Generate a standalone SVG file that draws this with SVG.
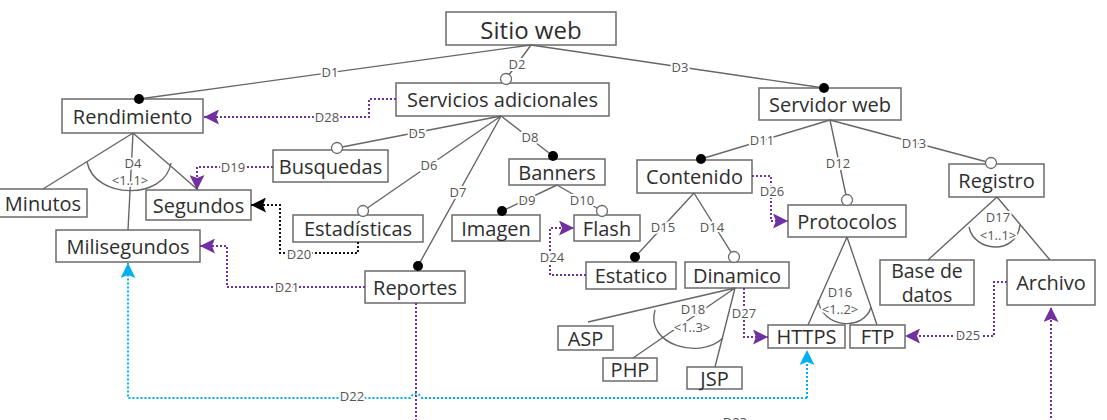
<svg xmlns="http://www.w3.org/2000/svg" width="1107" height="420" viewBox="0 0 1107 420">
<style>
.box{fill:#fff;stroke:#6b6b6b;stroke-width:1.5}
.nt{font-family:"Open Sans","Noto Sans",sans-serif;font-size:20px;fill:#2e2e2e;text-anchor:middle;dominant-baseline:central}
.ln{stroke:#666;stroke-width:1.4;fill:none}
.lb{font-family:"Open Sans","Noto Sans",sans-serif;font-size:13px;fill:#555;text-anchor:middle;dominant-baseline:central;stroke:#fff;stroke-width:4;stroke-linejoin:round;paint-order:stroke}
.pd{stroke:#7030A0;stroke-width:2;stroke-dasharray:2 2;fill:none}
.cd{stroke:#00B0F0;stroke-width:2;stroke-dasharray:2 2;fill:none}
.kd{stroke:#111;stroke-width:2;stroke-dasharray:2 2;fill:none}
.dot{fill:#000}
.oc{fill:#fff;stroke:#6b6b6b;stroke-width:1.3}
</style>
<defs>
<marker id="ap" viewBox="0 0 10 10" refX="10" refY="5" markerWidth="15" markerHeight="15" markerUnits="userSpaceOnUse" orient="auto"><path d="M0,0 L10,5 L0,10 L2,5 z" fill="#7030A0"/></marker>
<marker id="ac" viewBox="0 0 10 10" refX="10" refY="5" markerWidth="15" markerHeight="15" markerUnits="userSpaceOnUse" orient="auto"><path d="M0,0 L10,5 L0,10 L2,5 z" fill="#00B0F0"/></marker>
<marker id="ak" viewBox="0 0 10 10" refX="10" refY="5" markerWidth="15" markerHeight="15" markerUnits="userSpaceOnUse" orient="auto"><path d="M0,0 L10,5 L0,10 L2,5 z" fill="#000"/></marker>
</defs>
<rect width="1107" height="420" fill="#fff"/>

<g id="n-sitio"><rect class="box" x="446" y="12" width="170" height="33"/><text class="nt" x="531" y="29" style="font-size:24px">Sitio web</text></g>
<g id="n-rendimiento"><rect class="box" x="62" y="99" width="141" height="34"/><text class="nt" x="132.5" y="116">Rendimiento</text></g>
<g id="n-servicios"><rect class="box" x="396" y="83" width="213" height="33"/><text class="nt" x="502.5" y="99.5">Servicios adicionales</text></g>
<g id="n-servidor"><rect class="box" x="759" y="88" width="142" height="32"/><text class="nt" x="830" y="104">Servidor web</text></g>
<g id="n-minutos"><rect class="box" x="-1" y="189" width="88" height="28"/><text class="nt" x="43" y="203">Minutos</text></g>
<g id="n-segundos"><rect class="box" x="146" y="190" width="105" height="30"/><text class="nt" x="198.5" y="205">Segundos</text></g>
<g id="n-milisegundos"><rect class="box" x="56" y="230" width="144" height="32"/><text class="nt" x="128" y="246">Milisegundos</text></g>
<g id="n-busquedas"><rect class="box" x="273" y="150" width="115" height="32"/><text class="nt" x="330.5" y="166">Busquedas</text></g>
<g id="n-estadisticas"><rect class="box" x="293" y="215" width="130" height="27"/><text class="nt" x="358" y="228.5">Estadísticas</text></g>
<g id="n-reportes"><rect class="box" x="365" y="271" width="100" height="32"/><text class="nt" x="415" y="287">Reportes</text></g>
<g id="n-banners"><rect class="box" x="509" y="159" width="96" height="26"/><text class="nt" x="557" y="172">Banners</text></g>
<g id="n-imagen"><rect class="box" x="452" y="215" width="88" height="26"/><text class="nt" x="496" y="228">Imagen</text></g>
<g id="n-flash"><rect class="box" x="574" y="215" width="66" height="26"/><text class="nt" x="607" y="228">Flash</text></g>
<g id="n-contenido"><rect class="box" x="637" y="160" width="115" height="33"/><text class="nt" x="694.5" y="176.5">Contenido</text></g>
<g id="n-estatico"><rect class="box" x="586" y="262" width="90" height="27"/><text class="nt" x="631" y="275.5">Estatico</text></g>
<g id="n-dinamico"><rect class="box" x="685" y="262" width="104" height="26"/><text class="nt" x="737" y="275">Dinamico</text></g>
<g id="n-protocolos"><rect class="box" x="788" y="205" width="118" height="32"/><text class="nt" x="847" y="221">Protocolos</text></g>
<g id="n-registro"><rect class="box" x="949" y="164" width="95" height="33"/><text class="nt" x="996.5" y="180.5">Registro</text></g>
<g id="n-asp"><rect class="box" x="558" y="326" width="55" height="24"/><text class="nt" x="585.5" y="338">ASP</text></g>
<g id="n-php"><rect class="box" x="603" y="358" width="54" height="23"/><text class="nt" x="630" y="369.5">PHP</text></g>
<g id="n-jsp"><rect class="box" x="687" y="367" width="55" height="22"/><text class="nt" x="714.5" y="378">JSP</text></g>
<g id="n-https"><rect class="box" x="768" y="325" width="77" height="23"/><text class="nt" x="806.5" y="336.5">HTTPS</text></g>
<g id="n-ftp"><rect class="box" x="850" y="325" width="55" height="23"/><text class="nt" x="877.5" y="336.5">FTP</text></g>
<g id="n-basedatos"><rect class="box" x="880" y="260" width="94" height="45"/><text class="nt" x="927" y="270.5" style="font-size:19.5px">Base de</text><text class="nt" x="927" y="294.5" style="font-size:19.5px">datos</text></g>
<g id="n-archivo"><rect class="box" x="1007" y="260" width="88" height="45"/><text class="nt" x="1051" y="282">Archivo</text></g>

<g id="connectors">
<path class="ln" d="M531,45 L139,99 M531,45 L506,79 M531,45 L824,88"/>
<path class="ln" d="M501,116 L337,148 M501,116 L363,211 M501,116 L418,266 M501,116 L553,156"/>
<path class="ln" d="M133,133 L43,189 M133,133 L198,190 M133,133 L128,230"/>
<path class="ln" d="M87,162 C95,200 165,200 171,163"/>
<path class="ln" d="M557,185 L502,211 M557,185 L602,211"/>
<path class="ln" d="M830,120 L701,159 M830,120 L847,200 M830,120 L991,163"/>
<path class="ln" d="M694,193 L734,257 M694,193 L635,257"/>
<path class="ln" d="M847,237 L808,325 M847,237 L877,325"/>
<path class="ln" d="M818,300 C822,328 864,332 871,307"/>
<path class="ln" d="M997,197 L928,260 M997,197 L1050,260"/>
<path class="ln" d="M969,227 C974,252 1016,256 1020,225"/>
<path class="ln" d="M735,288 L588,322 M735,288 L633,358 M735,288 L715,367"/>
<path class="ln" d="M655,310 C645,345 700,360 723,338"/>
<circle class="dot" cx="139" cy="99" r="5"/>
<circle class="oc" cx="506" cy="79" r="5.5"/>
<circle class="dot" cx="824" cy="88" r="5"/>
<circle class="oc" cx="337" cy="148" r="5.5"/>
<circle class="oc" cx="363" cy="211" r="5.5"/>
<circle class="dot" cx="418" cy="266" r="5"/>
<circle class="dot" cx="553" cy="156" r="5"/>
<circle class="dot" cx="502" cy="211" r="5"/>
<circle class="oc" cx="602" cy="211" r="5.5"/>
<circle class="dot" cx="701" cy="159" r="5"/>
<circle class="oc" cx="847" cy="200" r="5.5"/>
<circle class="oc" cx="991" cy="163" r="5.5"/>
<circle class="dot" cx="635" cy="257" r="5"/>
<circle class="oc" cx="734" cy="257" r="5.5"/>
<path class="pd" d="M396,99 L369,99 L369,117 L204,117" marker-end="url(#ap)"/>
<path class="pd" d="M273,167 L197,167 L197,190" marker-end="url(#ap)"/>
<path class="kd" d="M358,242 L358,253 L280,253 L280,205 L251,205" marker-end="url(#ak)"/>
<path class="pd" d="M365,287 L227,287 L227,246 L200,246" marker-end="url(#ap)"/>
<path class="pd" d="M416,303 L416,425 L1051,425 L1051,307" marker-end="url(#ap)"/>
<path class="cd" d="M807,398 L422,398 Q416,389 410,398 L128,398 L128,263" marker-end="url(#ac)"/>
<path class="cd" d="M807,398 L807,350" marker-end="url(#ac)"/>
<path class="pd" d="M586,275 L550,275 L550,228 L574,228" marker-end="url(#ap)"/>
<path class="pd" d="M752,176 L771,176 L771,221 L788,221" marker-end="url(#ap)"/>
<path class="pd" d="M744,288 L744,337 L768,337" marker-end="url(#ap)"/>
<path class="pd" d="M1007,282 L994,282 L994,336 L905,336" marker-end="url(#ap)"/>
<text class="lb" x="330" y="72">D1</text>
<text class="lb" x="517" y="64">D2</text>
<text class="lb" x="680" y="67">D3</text>
<text class="lb" x="327" y="117">D28</text>
<text class="lb" x="417" y="133">D5</text>
<text class="lb" x="429" y="165">D6</text>
<text class="lb" x="458" y="192">D7</text>
<text class="lb" x="530" y="137">D8</text>
<text class="lb" x="133" y="163">D4</text>
<text class="lb" x="130" y="180">&lt;1..1&gt;</text>
<text class="lb" x="233" y="167">D19</text>
<text class="lb" x="299" y="254">D20</text>
<text class="lb" x="287" y="287">D21</text>
<text class="lb" x="352" y="396">D22</text>
<text class="lb" x="735" y="422">D23</text>
<text class="lb" x="527" y="200">D9</text>
<text class="lb" x="582" y="200">D10</text>
<text class="lb" x="552" y="257">D24</text>
<text class="lb" x="762" y="140">D11</text>
<text class="lb" x="838" y="163">D12</text>
<text class="lb" x="914" y="143">D13</text>
<text class="lb" x="772" y="191">D26</text>
<text class="lb" x="712" y="227">D14</text>
<text class="lb" x="663" y="227">D15</text>
<text class="lb" x="744" y="313">D27</text>
<text class="lb" x="693" y="309">D18</text>
<text class="lb" x="692" y="327">&lt;1..3&gt;</text>
<text class="lb" x="840" y="292">D16</text>
<text class="lb" x="840" y="309">&lt;1..2&gt;</text>
<text class="lb" x="998" y="217">D17</text>
<text class="lb" x="998" y="235">&lt;1..1&gt;</text>
<text class="lb" x="968" y="335">D25</text>
</g>
</svg>
